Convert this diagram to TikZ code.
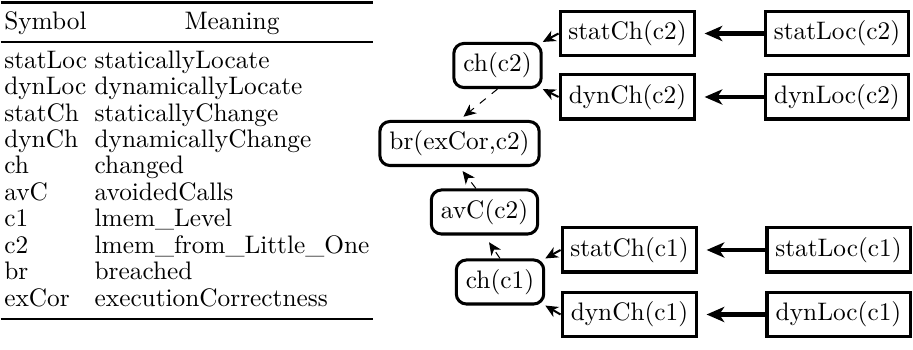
\documentclass[tikz,border=0pt]{standalone}
\usepackage{booktabs}
\usetikzlibrary{arrows.meta}
\tikzset{
  fact/.style={draw, very thick, minimum height=17.4pt, inner xsep=3pt},
  chbox/.style={fact, minimum width=53.3pt},
  locbox/.style={fact, minimum width=56.5pt},
  derived/.style={draw, very thick, rounded corners=4pt, minimum height=17.4pt, inner xsep=3.8pt},
  feed/.style={-{Stealth[length=7pt,width=6pt,inset=2pt]}, line width=1.6pt, shorten >=3.2pt},
  infer/.style={-{Stealth[length=5pt,width=4.5pt,inset=1.5pt]}, line width=0.8pt},
  lead/.style={-{Stealth[length=5pt,width=4.5pt,inset=1.5pt]}, dashed, thin, shorten >=2pt}
}
\begin{document}
\begin{tikzpicture}[x=0.395pt, y=-0.395pt]
  \useasboundingbox (0,0) rectangle (913,350);
  %% symbol table
  \node[anchor=north west, inner sep=0pt] (legend) at (0,1) {%
    \renewcommand{\arraystretch}{0.87}\setlength{\tabcolsep}{1.5pt}%
    \begin{tabular}{ll}
      \toprule
      Symbol & \multicolumn{1}{c}{Meaning}\\
      \midrule
      statLoc & staticallyLocate\\
      dynLoc & dynamicallyLocate\\
      statCh & staticallyChange\\
      dynCh & dynamicallyChange\\
      ch & changed\\
      avC & avoidedCalls\\
      c1 & lmem\_Level\\
      c2 & lmem\_from\_Little\_One\\
      br & breached\\
      exCor & executionCorrectness\\
      \bottomrule
    \end{tabular}};

  %% c2 branch
  \node[chbox] (statCh2) at (627.5,33.5) {statCh(c2)};
  \node[locbox] (statLoc2) at (837,33.5) {statLoc(c2)};
  \node[chbox] (dynCh2) at (627.5,97) {dynCh(c2)};
  \node[locbox] (dynLoc2) at (837,97) {dynLoc(c2)};
  \node[derived] (ch2) at (497.5,65.5) {ch(c2)};

  %% goal
  \node[derived, minimum width=61.2pt] (br) at (459.5,143.5) {br(exCor,c2)};
  \node[derived] (avC) at (484.5,212) {avC(c2)};

  %% c1 branch
  \node[derived] (ch1) at (500,282) {ch(c1)};
  \node[chbox] (statCh1) at (629.5,250) {statCh(c1)};
  \node[locbox] (statLoc1) at (838.5,250) {statLoc(c1)};
  \node[chbox] (dynCh1) at (629.5,314.5) {dynCh(c1)};
  \node[locbox] (dynLoc1) at (838.5,314.5) {dynLoc(c1)};

  \draw[feed] (statLoc2) -- (statCh2);
  \draw[feed] (dynLoc2) -- (dynCh2);
  \draw[feed] (statLoc1) -- (statCh1);
  \draw[feed] (dynLoc1) -- (dynCh1);

  \draw[infer] (statCh2.west) -- (ch2.north east);
  \draw[infer] (dynCh2.west) -- (ch2.south east);
  \draw[infer] (statCh1.west) -- (ch1.north east);
  \draw[infer] (dynCh1.west) -- (ch1.south east);

  \draw[lead] (ch2.south) -- (br.north);
  \draw[lead] (avC.110) -- (br.south);
  \draw[lead, shorten >=3.2pt] (ch1.north) -- (avC.south);
\end{tikzpicture}
\end{document}
